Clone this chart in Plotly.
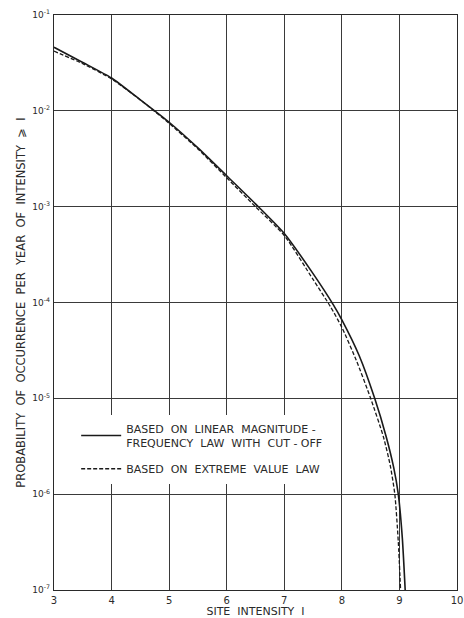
import plotly.graph_objects as go

# Site intensity values and annual exceedance probabilities
solid_x = [3, 3.5, 4, 4.5, 5, 5.5, 6, 6.5, 7, 7.5, 7.85, 8, 8.3, 8.57, 8.77, 8.9, 8.98, 9.05, 9.1]
solid_p = [4.6e-2, 3.2e-2, 2.2e-2, 1.3e-2, 7.6e-3, 4.1e-3, 2.1e-3, 1.07e-3, 5.25e-4,
           2.0e-4, 9.5e-5, 6.6e-5, 2.8e-5, 1.0e-5, 3.98e-6, 1.9e-6, 1.0e-6, 3.5e-7, 1.0e-7]

dash_x = [3, 3.5, 4, 4.5, 5, 5.5, 6, 6.5, 7, 7.5, 7.8, 8, 8.25, 8.5, 8.72, 8.84, 8.92, 8.98, 9.02]
dash_p = [4.2e-2, 3.1e-2, 2.15e-2, 1.3e-2, 7.4e-3, 4.0e-3, 2.0e-3, 1.0e-3, 5.0e-4,
          1.74e-4, 9.1e-5, 5.5e-5, 2.5e-5, 1.0e-5, 4.0e-6, 2.0e-6, 1.0e-6, 3.2e-7, 1.0e-7]

x_ticks = [3, 4, 5, 6, 7, 8, 9, 10]
y_tickvals = [1e-1, 1e-2, 1e-3, 1e-4, 1e-5, 1e-6, 1e-7]
y_ticktext = ["10<sup>-1</sup>", "10<sup>-2</sup>", "10<sup>-3</sup>", "10<sup>-4</sup>",
              "10<sup>-5</sup>", "10<sup>-6</sup>", "10<sup>-7</sup>"]

name_solid = "BASED  ON  LINEAR  MAGNITUDE -<br>FREQUENCY  LAW  WITH  CUT - OFF"
name_dash = "BASED  ON  EXTREME  VALUE  LAW"
x_title = "SITE  INTENSITY  I"
y_title = "PROBABILITY  OF  OCCURRENCE  PER  YEAR  OF  INTENSITY  ⩾  I"

FONT = "DejaVu Sans"
INK = "#2a2a2a"

fig = go.Figure()
fig.add_trace(go.Scatter(x=solid_x, y=solid_p, mode="lines", name=name_solid,
                         legendgroup="a",
                         line=dict(color="#1a1a1a", width=1.6, shape="spline", smoothing=0.6)))
fig.add_trace(go.Scatter(x=dash_x, y=dash_p, mode="lines", name=name_dash,
                         legendgroup="b",
                         line=dict(color="#1a1a1a", width=1.3, dash="4px,2px", shape="spline", smoothing=0.6)))

fig.update_layout(
    width=464, height=618,
    margin=dict(l=54, r=7, t=15, b=28),
    paper_bgcolor="white", plot_bgcolor="white",
    font=dict(family=FONT, color=INK, size=10),
    showlegend=True,
    legend=dict(x=0.055, y=0.305, xanchor="left", yanchor="top",
                bgcolor="white", borderwidth=0, tracegroupgap=8,
                font=dict(family=FONT, size=11, color=INK),
                itemwidth=40),
)
fig.update_xaxes(
    range=[3, 10], tickvals=x_ticks, ticktext=[str(v) for v in x_ticks],
    automargin=False, ticklabeloverflow="allow",
    showgrid=True, gridcolor="#3a3a3a", gridwidth=1,
    showline=True, linecolor="#2a2a2a", linewidth=1.2, mirror=True,
    ticks="", tickfont=dict(size=10, family=FONT), ticklabelstandoff=1,
    zeroline=False,
    title=dict(text=x_title, font=dict(size=11, family=FONT), standoff=0),
)
fig.update_yaxes(
    type="log", range=[-7, -1], tickvals=y_tickvals, ticktext=y_ticktext,
    automargin=False,
    showgrid=True, gridcolor="#3a3a3a", gridwidth=1,
    showline=True, linecolor="#2a2a2a", linewidth=1.2, mirror=True,
    ticks="", tickfont=dict(size=9, family=FONT), ticklabelstandoff=1,
    zeroline=False,
    title=dict(text=y_title, font=dict(size=11.5, family=FONT), standoff=4),
)

# Remove the default page margin so the 464x618 figure fills the window exactly
fig.write_html("out.html", config={"displayModeBar": False},
               post_script="document.body.style.margin='0';document.body.style.overflow='hidden';")
